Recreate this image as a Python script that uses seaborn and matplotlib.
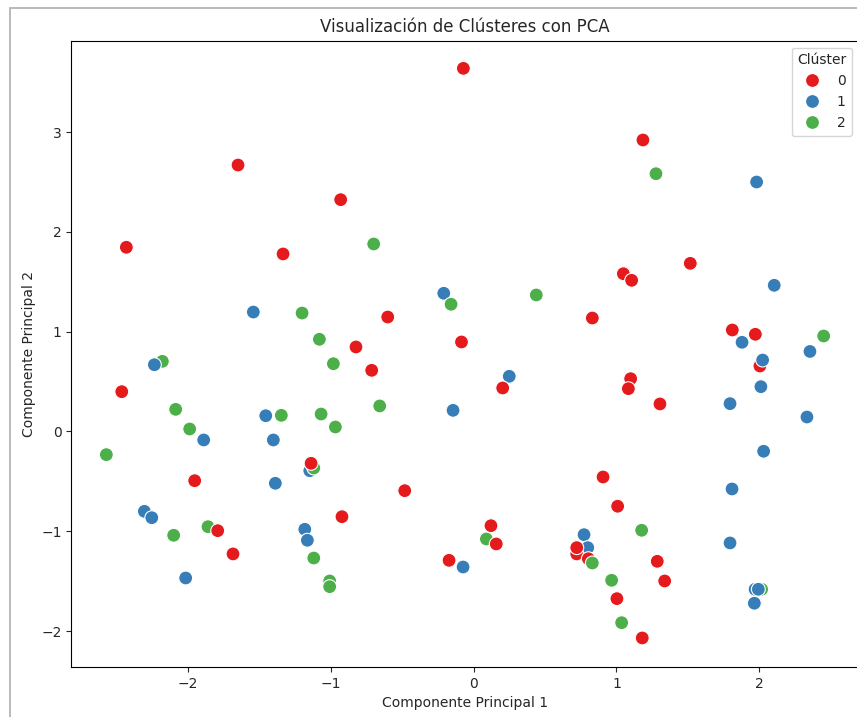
import matplotlib
matplotlib.use("Agg")
import matplotlib.pyplot as plt
import seaborn as sns
import pandas as pd
from matplotlib.patches import Rectangle

# Data (draw order)
pc1 = [
    # cluster 1 (blue)
    1.980, 2.103, -0.208, -1.540, 1.878, 2.353, 0.250, 2.010, 1.794, -0.143,
    -1.453, 2.332, -1.887, -1.400, 2.029, -1.145, -1.386, 1.808, -2.302, -2.250,
    -1.180, -1.162, -0.073, -2.013, 0.773, 0.799, 1.794, 1.964,
    # cluster 2 (green)
    1.276, -0.698, 0.439, -0.157, -1.199, 2.449, -1.078, -2.176, -0.980, -0.656,
    -2.083, -1.344, -1.066, -1.985, -0.966, -2.568, -1.117, -1.857, -2.097, -1.117,
    -1.006, -1.006, 0.090, 1.176, 0.966, 1.036, 2.015,
    # cluster 0 (red)
    -0.071, 1.185, -1.647, -0.929, -2.428, -1.332, 1.516, 1.048, 1.106, -0.600,
    0.831, 1.810, 1.971, -0.822, -0.084, 2.003, -0.712, 1.099, 1.083, 0.204,
    -2.460, 1.304, -1.136, -1.950, -0.481, 0.906, 1.008, -0.920, -1.789, 0.122,
    0.159, 0.722, 0.722, 0.803, -1.682, -0.171, 1.285, 1.337, 1.003, 1.180,
    # drawn last
    0.831, -2.232, 2.022, 1.969, 1.992,
]
pc2 = [
    2.500, 1.465, 1.385, 1.197, 0.894, 0.802, 0.553, 0.449, 0.279, 0.212,
    0.158, 0.145, -0.085, -0.085, -0.198, -0.393, -0.519, -0.576, -0.800, -0.864,
    -0.980, -1.090, -1.358, -1.468, -1.034, -1.164, -1.117, -1.721,
    2.583, 1.879, 1.368, 1.275, 1.187, 0.957, 0.924, 0.703, 0.679, 0.256,
    0.222, 0.162, 0.175, 0.025, 0.045, -0.232, -0.366, -0.954, -1.040, -1.268,
    -1.498, -1.555, -1.077, -0.990, -1.491, -1.916, -1.581,
    3.639, 2.921, 2.670, 2.323, 1.846, 1.779, 1.685, 1.581, 1.515, 1.147,
    1.137, 1.017, 0.974, 0.847, 0.897, 0.656, 0.613, 0.529, 0.429, 0.436,
    0.399, 0.276, -0.319, -0.493, -0.593, -0.456, -0.749, -0.854, -0.994, -0.944,
    -1.127, -1.227, -1.164, -1.275, -1.227, -1.291, -1.301, -1.498, -1.675, -2.069,
    -1.318, 0.669, 0.716, -1.581, -1.581,
]
cluster = (["1"] * 28 + ["2"] * 27 + ["0"] * 40 + ["2", "1", "1", "1", "1"])

df = pd.DataFrame({"PC1": pc1, "PC2": pc2, "Clúster": cluster})

sns.set_style("white")
plt.rcParams['font.family'] = ['DejaVu Sans']

fig = plt.figure(figsize=(8.57, 7.17), dpi=100)
ax = fig.add_axes([71.3 / 857, 50 / 717, (859 - 71.3) / 857, (667 - 40.7) / 717])

sns.scatterplot(data=df, x="PC1", y="PC2", hue="Clúster", hue_order=["0", "1", "2"],
                palette="Set1", s=100, ax=ax)

ax.set_xlim(-2.813, 2.696)
ax.set_ylim(-2.360, 3.916)
ax.set_title("Visualización de Clústeres con PCA", fontsize=12)
ax.set_xlabel("Componente Principal 1")
ax.set_ylabel("Componente Principal 2")
ax.tick_params(axis="both", which="both", length=3.5, width=0.8, bottom=True, left=True)
for sp in ax.spines.values():
    sp.set_color("black")
    sp.set_linewidth(0.8)

ax.legend(title="Clúster", loc="upper right")

# outer frame of the screenshot
fig.patches.append(Rectangle((9.5 / 857, -0.1), 1.2, 1 - 7.5 / 717 + 0.1,
                             transform=fig.transFigure, fill=False,
                             edgecolor="#b4b4b4", linewidth=1.3))

fig.savefig("out.png", dpi=100)
